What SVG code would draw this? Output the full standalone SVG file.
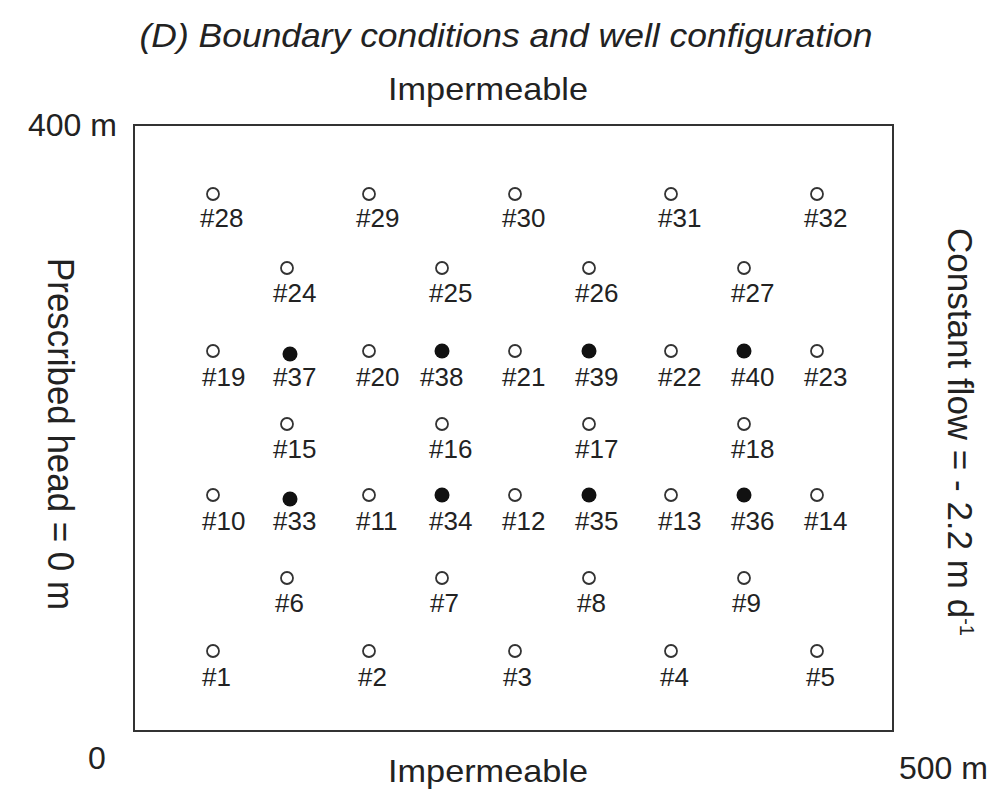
<svg xmlns="http://www.w3.org/2000/svg" width="996" height="796" viewBox="0 0 996 796">
<style>
text{font-family:"Liberation Sans",Arial,sans-serif;fill:#222}
.t{font-size:32px}
.lab{font-size:26px}
.o{fill:#fff;stroke:#333;stroke-width:1.8}
.f{fill:#111}
</style>
<rect x="0" y="0" width="996" height="796" fill="#fff"/>
<text x="506" y="47" text-anchor="middle" font-style="italic" font-size="33" textLength="733" lengthAdjust="spacingAndGlyphs">(D) Boundary conditions and well configuration</text>
<text class="t" x="488" y="100" text-anchor="middle" font-size="33" textLength="200" lengthAdjust="spacingAndGlyphs">Impermeable</text>
<text class="t" x="488" y="782" text-anchor="middle" font-size="33" textLength="200" lengthAdjust="spacingAndGlyphs">Impermeable</text>
<text class="t" x="28" y="136">400 m</text>
<text class="t" x="88" y="769">0</text>
<text class="t" x="899" y="779">500 m</text>
<rect id="domain" x="134" y="125" width="759" height="606" fill="none" stroke="#333" stroke-width="2"/>
<text transform="translate(48,434) rotate(90)" text-anchor="middle" font-size="36" textLength="352" lengthAdjust="spacingAndGlyphs">Prescribed head = 0 m</text>
<text transform="translate(948,432) rotate(90)" text-anchor="middle" font-size="35">Constant flow = - 2.2 m d<tspan font-size="20" dy="-12">-1</tspan></text>
<g id="connectors"/>
<g id="wells">
<g id="w28"><circle class="o" cx="213" cy="194" r="6"/><text class="lab" x="200" y="227">#28</text></g>
<g id="w29"><circle class="o" cx="369" cy="194" r="6"/><text class="lab" x="356" y="227">#29</text></g>
<g id="w30"><circle class="o" cx="515" cy="194" r="6"/><text class="lab" x="502" y="227">#30</text></g>
<g id="w31"><circle class="o" cx="671" cy="194" r="6"/><text class="lab" x="658" y="227">#31</text></g>
<g id="w32"><circle class="o" cx="817" cy="194" r="6"/><text class="lab" x="804" y="227">#32</text></g>
<g id="w24"><circle class="o" cx="287" cy="268" r="6"/><text class="lab" x="273" y="302">#24</text></g>
<g id="w25"><circle class="o" cx="442" cy="268" r="6"/><text class="lab" x="429" y="302">#25</text></g>
<g id="w26"><circle class="o" cx="589" cy="268" r="6"/><text class="lab" x="575" y="302">#26</text></g>
<g id="w27"><circle class="o" cx="744" cy="268" r="6"/><text class="lab" x="731" y="302">#27</text></g>
<g id="w19"><circle class="o" cx="213" cy="351" r="6"/><text class="lab" x="202" y="386">#19</text></g>
<g id="w37"><circle class="f" cx="290" cy="354" r="7.5"/><text class="lab" x="273" y="386">#37</text></g>
<g id="w20"><circle class="o" cx="369" cy="351" r="6"/><text class="lab" x="356" y="386">#20</text></g>
<g id="w38"><circle class="f" cx="442" cy="351" r="7.5"/><text class="lab" x="420" y="386">#38</text></g>
<g id="w21"><circle class="o" cx="515" cy="351" r="6"/><text class="lab" x="502" y="386">#21</text></g>
<g id="w39"><circle class="f" cx="589" cy="351" r="7.5"/><text class="lab" x="575" y="386">#39</text></g>
<g id="w22"><circle class="o" cx="671" cy="351" r="6"/><text class="lab" x="658" y="386">#22</text></g>
<g id="w40"><circle class="f" cx="744" cy="351" r="7.5"/><text class="lab" x="731" y="386">#40</text></g>
<g id="w23"><circle class="o" cx="817" cy="351" r="6"/><text class="lab" x="804" y="386">#23</text></g>
<g id="w15"><circle class="o" cx="287" cy="424" r="6"/><text class="lab" x="273" y="458">#15</text></g>
<g id="w16"><circle class="o" cx="442" cy="424" r="6"/><text class="lab" x="429" y="458">#16</text></g>
<g id="w17"><circle class="o" cx="589" cy="424" r="6"/><text class="lab" x="575" y="458">#17</text></g>
<g id="w18"><circle class="o" cx="744" cy="424" r="6"/><text class="lab" x="731" y="458">#18</text></g>
<g id="w10"><circle class="o" cx="213" cy="495" r="6"/><text class="lab" x="202" y="530">#10</text></g>
<g id="w33"><circle class="f" cx="290" cy="499" r="7.5"/><text class="lab" x="273" y="530">#33</text></g>
<g id="w11"><circle class="o" cx="369" cy="495" r="6"/><text class="lab" x="356" y="530">#11</text></g>
<g id="w34"><circle class="f" cx="442" cy="495" r="7.5"/><text class="lab" x="429" y="530">#34</text></g>
<g id="w12"><circle class="o" cx="515" cy="495" r="6"/><text class="lab" x="502" y="530">#12</text></g>
<g id="w35"><circle class="f" cx="589" cy="495" r="7.5"/><text class="lab" x="575" y="530">#35</text></g>
<g id="w13"><circle class="o" cx="671" cy="495" r="6"/><text class="lab" x="658" y="530">#13</text></g>
<g id="w36"><circle class="f" cx="744" cy="495" r="7.5"/><text class="lab" x="731" y="530">#36</text></g>
<g id="w14"><circle class="o" cx="817" cy="495" r="6"/><text class="lab" x="804" y="530">#14</text></g>
<g id="w6"><circle class="o" cx="287" cy="578" r="6"/><text class="lab" x="275" y="612">#6</text></g>
<g id="w7"><circle class="o" cx="442" cy="578" r="6"/><text class="lab" x="430" y="612">#7</text></g>
<g id="w8"><circle class="o" cx="589" cy="578" r="6"/><text class="lab" x="577" y="612">#8</text></g>
<g id="w9"><circle class="o" cx="744" cy="578" r="6"/><text class="lab" x="732" y="612">#9</text></g>
<g id="w1"><circle class="o" cx="213" cy="651" r="6"/><text class="lab" x="202" y="686">#1</text></g>
<g id="w2"><circle class="o" cx="369" cy="651" r="6"/><text class="lab" x="358" y="686">#2</text></g>
<g id="w3"><circle class="o" cx="515" cy="651" r="6"/><text class="lab" x="503" y="686">#3</text></g>
<g id="w4"><circle class="o" cx="671" cy="651" r="6"/><text class="lab" x="660" y="686">#4</text></g>
<g id="w5"><circle class="o" cx="817" cy="651" r="6"/><text class="lab" x="806" y="686">#5</text></g>
</g>
</svg>
